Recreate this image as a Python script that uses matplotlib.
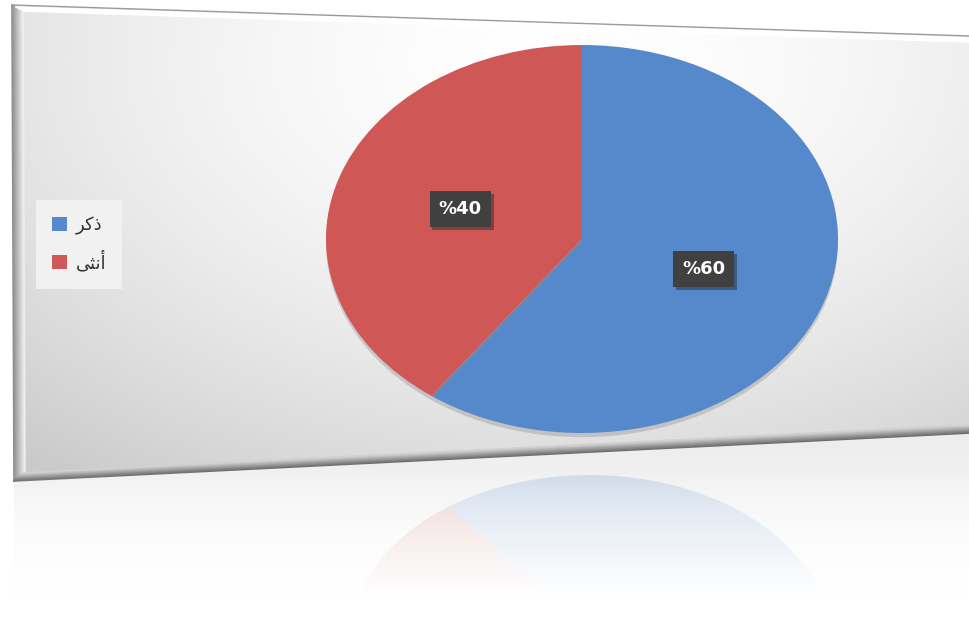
import numpy as np
import matplotlib.pyplot as plt
from matplotlib.patches import Polygon
import matplotlib.patheffects as pe

# data
labels = ['ذكر', 'أنثى']
values = [60, 40]
colors = ['#5689CB', '#CF5856']

# minimal arabic shaping (matplotlib has no complex text layout)
forms = {
    'ذ': ('\uFEAB', '\uFEAC', None, None),
    'ر': ('\uFEAD', '\uFEAE', None, None),
    'ك': ('\uFED9', '\uFEDA', '\uFEDB', '\uFEDC'),
    'أ': ('\uFE83', '\uFE84', None, None),
    'ن': ('\uFEE5', '\uFEE6', '\uFEE7', '\uFEE8'),
    'ث': ('\uFE99', '\uFE9A', '\uFE9B', '\uFE9C'),
    'ى': ('\uFEEF', '\uFEF0', None, None),
}


def shape(s):
    out = []
    for i, c in enumerate(s):
        f = forms[c]
        prev = s[i - 1] if i > 0 else None
        nxt = s[i + 1] if i < len(s) - 1 else None
        jp = prev is not None and forms[prev][2] is not None
        jn = nxt is not None and f[2] is not None
        if jp and jn:
            out.append(f[3])
        elif jp:
            out.append(f[1])
        elif jn:
            out.append(f[2])
        else:
            out.append(f[0])
    return ''.join(reversed(out))


W, H = 970, 617
fig = plt.figure(figsize=(9.7, 6.17), dpi=100)
fig.patch.set_facecolor('white')


def box(x0, y0, x1, y1):
    # pixel box (top-left origin) -> figure rect
    return [x0 / W, 1 - y1 / H, (x1 - x0) / W, (y1 - y0) / H]


# background panel
bg = fig.add_axes([0, 0, 1, 1])
bg.set_xlim(0, W)
bg.set_ylim(H, 0)
bg.axis('off')

panel = [(12, 5), (970, 36), (970, 433), (14, 481)]
yy, xx = np.mgrid[0:H, 0:W]
r = np.sqrt(((xx - 560) / 680.0) ** 2 + ((yy - 60) / 430.0) ** 2)
val = 1 - 0.15 * np.clip(r, 0, 1.2) ** 1.7
img = np.dstack([val, val, val])
im = bg.imshow(img, extent=(0, W, H, 0), zorder=1)
p = Polygon(panel, closed=True, facecolor='none', edgecolor='none')
bg.add_patch(p)
im.set_clip_path(p)

# area under the panel (reflection floor)
floor = [(14, 481), (970, 433), (970, 617), (14, 617)]
fv = 0.93 + 0.07 * np.clip((yy - 440) / 170.0, 0, 1)
fimg = np.dstack([fv, fv, fv])
im2 = bg.imshow(fimg, extent=(0, W, H, 0), zorder=1)
p2 = Polygon(floor, closed=True, facecolor='none', edgecolor='none')
bg.add_patch(p2)
im2.set_clip_path(p2)

# bevel edges
for k in range(12):
    c = 0.55 + 0.035 * k
    bg.plot([12 + k, 14 + k], [5 + k * 0.4, 481 - k * 0.5], color=(c, c, c), lw=1.2, zorder=2)
for k in range(9):
    c = 0.42 + 0.05 * k
    bg.plot([14 + k, 970], [481 - k, 433 - k], color=(c, c, c), lw=1.2, zorder=2)
bg.plot([12, 970], [5, 36], color='#9a9a9a', lw=1.0, zorder=3)
for k in range(1, 6):
    bg.plot([14 + k * 2, 970], [6 + k, 37 + k], color='white', lw=1.2, zorder=2)

# main pie
ax = fig.add_axes(box(326, 45, 838, 433))
wedges, texts, autotexts = ax.pie(values, colors=colors, startangle=90, counterclock=False,
                                  autopct=lambda pct: '%{:.0f}'.format(pct), pctdistance=0.5,
                                  wedgeprops=dict(linewidth=0))
ax.set_aspect('auto')
ax.set_xlim(-1, 1)
ax.set_ylim(-1, 1)
ax.axis('off')
for w in wedges:
    w.set_path_effects([pe.SimplePatchShadow(offset=(0, -3), shadow_rgbFace='#888888', alpha=0.35),
                        pe.Normal()])
for t in autotexts:
    t.set_color('white')
    t.set_fontsize(13)
    t.set_fontweight('bold')
    t.set_bbox(dict(boxstyle='square,pad=0.5', facecolor='#404040', edgecolor='none'))
    t.get_bbox_patch().set_path_effects([pe.SimplePatchShadow(offset=(2, -2), shadow_rgbFace='#222222',
                                                              alpha=0.45),
                                         pe.Normal()])

# reflection
rax = fig.add_axes(box(350, 475, 830, 805))
rw, _ = rax.pie(values, colors=colors, startangle=90, counterclock=False,
                wedgeprops=dict(linewidth=0, alpha=0.22))
rax.set_aspect('auto')
rax.set_xlim(-1, 1)
rax.set_ylim(1, -1)
rax.axis('off')

fade = fig.add_axes([0, 0, 1, 1])
fade.set_xlim(0, W)
fade.set_ylim(H, 0)
fade.axis('off')
a = np.clip((yy - 470) / 130.0, 0, 1) ** 0.8
fimg2 = np.dstack([np.ones_like(a), np.ones_like(a), np.ones_like(a), a])
im3 = fade.imshow(fimg2, extent=(0, W, H, 0))
p3 = Polygon(floor, closed=True, facecolor='none', edgecolor='none')
fade.add_patch(p3)
im3.set_clip_path(p3)

# legend
leg = fig.legend(wedges, [shape(s) for s in labels], loc='upper left',
                 bbox_to_anchor=(36 / W, 1 - 200 / H), borderaxespad=0,
                 frameon=True, fancybox=False,
                 facecolor='#f1f1f1', edgecolor='none', framealpha=1,
                 prop={'family': 'DejaVu Sans', 'size': 13},
                 handlelength=0.8, handleheight=0.8, handletextpad=0.5,
                 labelspacing=0.9, borderpad=0.9, labelcolor='#333333')
for h in leg.legend_handles:
    h.set_path_effects([])

fig.savefig('out.png', dpi=100)
